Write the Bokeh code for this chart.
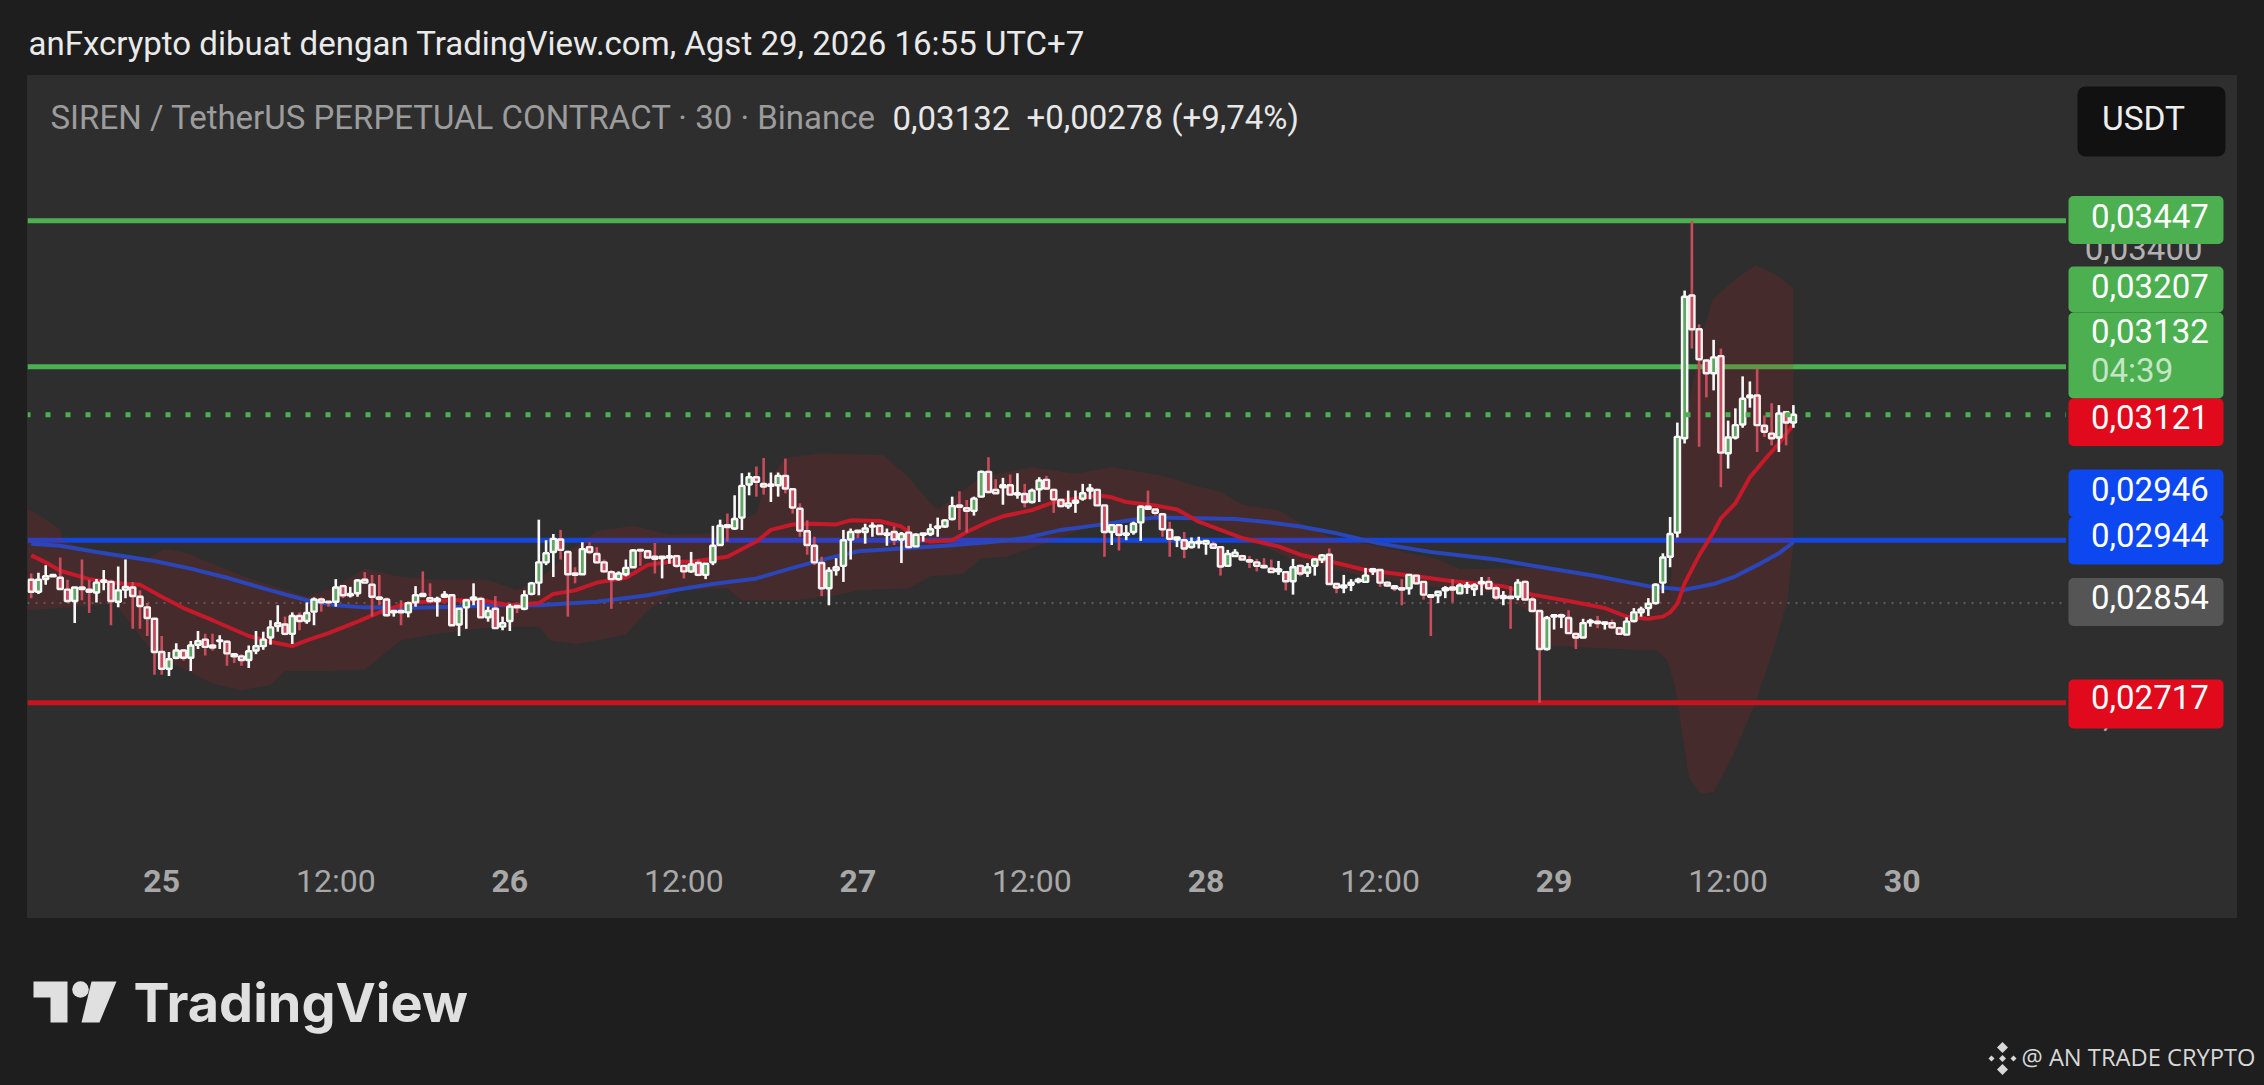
import math
from bokeh.plotting import figure
from bokeh.layouts import column, row
from bokeh.embed import file_html
from bokeh.resources import INLINE
from bokeh.core.properties import value
from bokeh.models import (Range1d, FixedTicker, CustomJSTickFormatter, LinearAxis, BoxAnnotation,
                          Label, GlobalInlineStyleSheet, ColumnDataSource)

# ---- data (prices in 1e-5 USDT), 30-minute candles; index 0 = 25 Aug 00:00
first_index = -18
opens = [
2887,2870,2888,2892,2890,2873,2857,2876,2873,2869,
2884,2884,2856,2873,2876,2863,2848,2832,2786,2763,
2778,2788,2778,2796,2803,2795,2801,2800,2783,2780,
2775,2788,2794,2806,2822,2824,2811,2836,2829,2842,
2859,2856,2856,2878,2865,2868,2887,2880,2862,2859,
2841,2843,2841,2855,2867,2861,2857,2863,2865,2824,
2848,2859,2860,2834,2846,2821,2829,2850,2846,2867,
2883,2912,2927,2945,2927,2896,2895,2934,2924,2912,
2898,2888,2895,2905,2930,2928,2920,2918,2919,2921,
2907,2899,2911,2894,2912,2937,2966,2961,2977,3026,
3037,3027,3024,3025,3039,3019,2990,2957,2936,2911,
2875,2901,2907,2945,2958,2956,2964,2965,2952,2956,
2945,2955,2935,2952,2953,2962,2964,2975,2995,2991,
2987,3008,3045,3018,3022,3025,3011,3012,3000,3019,
3033,3018,3003,2994,2999,3005,3017,3018,2995,2956,
2966,2952,2956,2970,2993,2989,2982,2959,2945,2944,
2934,2940,2939,2938,2934,2907,2921,2921,2915,2912,
2907,2903,2899,2898,2885,2907,2897,2907,2916,2923,
2881,2876,2880,2885,2884,2899,2901,2883,2878,2875,
2875,2893,2884,2865,2865,2872,2876,2868,2877,2874,
2882,2884,2875,2861,2863,2863,2884,2859,2843,2790,
2835,2835,2833,2811,2806,2827,2828,2825,2826,2819,
2810,2829,2841,2847,2854,2883,2920,2955,3096,3322,
3267,3217,3197,3224,3073,3097,3117,3159,3162,3115,
3103,3097,3136,3120]
highs = [
2896,2897,2908,2895,2919,2887,2876,2916,2887,2888,
2901,2887,2906,2916,2884,2872,2854,2832,2808,2786,
2798,2790,2801,2815,2811,2811,2809,2802,2783,2783,
2795,2815,2814,2830,2851,2835,2841,2841,2855,2862,
2862,2856,2888,2880,2877,2888,2898,2894,2894,2862,
2844,2858,2856,2878,2899,2882,2863,2871,2867,2847,
2860,2882,2863,2849,2864,2835,2853,2851,2872,2884,
2974,2944,2953,2959,2929,2905,2941,2941,2934,2916,
2901,2899,2916,2931,2931,2930,2940,2920,2937,2923,
2908,2927,2916,2911,2965,2974,2983,3010,3043,3044,
3053,3066,3044,3044,3065,3020,2998,2973,2949,2920,
2905,2918,2959,2961,2959,2968,2970,2966,2961,2964,
2956,2965,2954,2954,2968,2977,2975,3008,3016,3003,
3008,3047,3067,3034,3036,3041,3043,3027,3020,3037,
3039,3020,3005,3017,3017,3027,3027,3020,2995,2966,
2967,2966,2971,2995,3017,2990,2984,2971,2949,2956,
2948,2949,2944,2942,2935,2930,2931,2923,2921,2917,
2918,2916,2914,2898,2917,2909,2911,2918,2924,2932,
2883,2894,2888,2890,2904,2904,2902,2885,2879,2888,
2895,2894,2885,2865,2871,2878,2888,2882,2884,2882,
2891,2891,2879,2871,2878,2888,2886,2863,2844,2836,
2838,2839,2844,2813,2832,2832,2836,2828,2831,2821,
2834,2847,2849,2861,2882,2925,2978,3120,3330,3447,
3275,3219,3250,3236,3123,3142,3192,3184,3204,3131,
3150,3147,3138,3147]
lows = [
2861,2867,2880,2892,2873,2854,2826,2858,2840,2855,
2872,2823,2848,2861,2818,2818,2808,2755,2755,2753,
2776,2774,2760,2790,2781,2788,2790,2767,2771,2767,
2764,2783,2789,2796,2814,2809,2797,2816,2825,2823,
2842,2849,2849,2861,2862,2863,2882,2835,2851,2835,
2835,2823,2834,2849,2863,2854,2835,2861,2823,2808,
2818,2851,2833,2828,2818,2816,2815,2840,2844,2865,
2865,2908,2891,2916,2835,2882,2894,2924,2910,2897,
2846,2886,2892,2904,2907,2918,2896,2889,2910,2904,
2889,2897,2892,2888,2908,2936,2942,2959,2959,3010,
3008,3011,3000,3008,3013,2983,2949,2923,2908,2864,
2851,2893,2884,2916,2947,2939,2949,2952,2936,2937,
2911,2932,2934,2942,2950,2949,2962,2973,2959,2955,
2980,3007,3013,3012,2996,3010,3005,2992,2998,3000,
3018,2984,2992,2990,2984,3002,3004,2994,2920,2937,
2929,2944,2952,2943,2988,2980,2949,2920,2934,2918,
2932,2932,2923,2932,2893,2906,2920,2915,2904,2899,
2903,2897,2894,2872,2866,2892,2891,2893,2911,2880,
2868,2868,2871,2882,2883,2894,2877,2877,2871,2851,
2866,2880,2859,2808,2854,2861,2855,2868,2867,2864,
2865,2873,2858,2851,2818,2858,2858,2843,2717,2788,
2817,2819,2811,2790,2805,2821,2819,2817,2818,2810,
2809,2827,2835,2836,2852,2868,2905,2948,3088,3236,
3083,3159,3170,3022,3050,3094,3112,3143,3075,3098,
3085,3075,3085,3112]
closes = [
2870,2887,2892,2894,2874,2857,2876,2874,2870,2883,
2886,2857,2872,2877,2864,2850,2833,2786,2763,2776,
2788,2778,2795,2801,2793,2792,2802,2784,2780,2775,
2787,2794,2803,2820,2826,2811,2836,2829,2840,2859,
2855,2855,2876,2865,2867,2886,2883,2863,2860,2837,
2843,2841,2854,2865,2864,2857,2860,2866,2823,2846,
2858,2862,2834,2843,2819,2826,2849,2848,2865,2882,
2912,2925,2946,2930,2895,2894,2931,2927,2912,2899,
2888,2896,2904,2929,2929,2919,2917,2920,2921,2907,
2899,2909,2894,2910,2936,2965,2963,2975,3024,3037,
3030,3023,3026,3039,3020,2992,2958,2937,2912,2875,
2900,2905,2944,2956,2956,2961,2965,2953,2954,2945,
2953,2934,2952,2954,2960,2964,2973,2994,2993,2987,
3005,3045,3015,3013,3025,3011,3013,3000,3017,3032,
3020,3004,2994,2998,3002,3013,3020,2995,2956,2966,
2952,2954,2968,2993,2990,2984,2960,2946,2948,2932,
2941,2942,2943,2933,2906,2924,2926,2916,2913,2907,
2905,2898,2902,2885,2905,2896,2905,2916,2922,2881,
2876,2879,2883,2887,2893,2902,2883,2879,2875,2873,
2894,2882,2866,2863,2870,2875,2873,2879,2879,2879,
2884,2875,2862,2864,2861,2883,2859,2843,2790,2833,
2837,2837,2812,2806,2826,2829,2826,2827,2820,2811,
2828,2841,2845,2853,2880,2919,2953,3098,3320,3267,
3219,3197,3222,3074,3097,3116,3157,3162,3116,3106,
3096,3134,3120,3132]

ma_fast_i = [-18,-16,-14,-10,-6,-3,0,3,7,12,15,18,20,23,27,30,33,35,40,44,48,52,54,57,60,
             64,67,70,73,78,82,84,87,90,93,95,99,102,104,106,109,111,114,116,120,123,126,129,131,133,137,140,143,
             146,149,154,157,162,166,173,178,185,189,194,199,202,205,207,208,209,210,212,214,215,217,219,221,223,225]
ma_fast = [2922,2912,2900,2888,2882,2880,2863,2847,2830,2808,2800,2794,2802,2812,2828,2841,2851,2855,2858,2858,2851,2854,2867,2872,2883,
           2890,2908,2913,2913,2920,2942,2959,2967,2968,2967,2973,2972,2964,2947,2942,2944,2956,2971,2979,2988,3000,3005,3010,3007,3000,2995,2989,2971,
           2959,2947,2935,2923,2911,2901,2892,2885,2878,2866,2857,2847,2835,2832,2835,2841,2853,2882,2922,2956,2976,2998,3037,3063,3088,3117]

ma_slow_i = [-18,-14,-9,-1,4,9,15,20,24,28,33,41,46,52,57,60,67,71,76,82,87,92,96,102,108,114,119,124,129,134,137,143,
             148,152,157,162,168,175,184,191,198,205,208,210,212,214,217,220,223,225]
ma_slow = [2939,2936,2927,2914,2903,2890,2872,2858,2851,2848,2847,2849,2851,2851,2854,2856,2865,2873,2881,2889,2904,2918,2928,2932,2936,2941,2947,2959,2966,2974,2977,2976,
           2975,2971,2964,2954,2939,2927,2916,2904,2892,2878,2875,2873,2877,2881,2892,2908,2925,2941]

band_up_i = [-18.5,-16.5,-14,-13.6,-9,-2,0.4,3,7,11.5,20,24,28,33,38,45,49,52,57,60,65,70,76,82,83,86,91,99.5,103,106,107,113,120,126,131,138,143,
             146,149,154,157,162,166,176,179,189,198,205,208,209.7,212.7,213.8,216.8,219.8,222.8,225]
band_up = [2990,2978,2959,2943,2927,2917,2931,2927,2910,2891,2863,2877,2903,2891,2887,2887,2872,2887,2934,2957,2965,2952,2954,2983,3022,3066,3073,3070,3037,2998,2989,3037,3052,3042,3052,3039,3023,
           3015,2996,2988,2969,2944,2939,2916,2902,2904,2892,2878,2868,3104,3268,3314,3347,3372,3355,3333]
band_lo_i = [-18.5,-11.5,-6.5,-4,-1,3.5,7,11,15,17,23,28,33,38,46,52,53.5,57,60.5,64,67,71,78,80,87,93,96,103,106,110.6,113,116.4,122,129,137,143,
             150,157,166,175,184,189,191,195,206.2,207.6,208.7,209.4,210.6,212.2,214,216.8,219.5,221.9,224.2,225]
band_lo = [2844,2849,2854,2821,2783,2760,2743,2734,2741,2760,2760,2762,2802,2811,2821,2821,2802,2797,2803,2810,2844,2872,2875,2858,2858,2865,2872,2875,2892,2896,2918,2920,2940,2968,2978,2974,
           2944,2911,2892,2878,2868,2840,2795,2793,2788,2775,2738,2694,2619,2598,2600,2650,2711,2779,2858,2940]

line_green = [0.03447, 0.03207]
line_blue = [0.02944]
line_red = [0.02717]
last_price = 0.03132
prev_close = 0.02854

day_ticks = [0, 48, 96, 144, 192, 240]
day_labels = ["25", "26", "27", "28", "29", "30"]
noon_ticks = [24, 72, 120, 168, 216]
noon_labels = ["12:00"] * 5

tag_texts = ["0,03447", "0,03207", "0,03132", "0,03121", "0,02946", "0,02944", "0,02854", "0,02717"]
tag_colors = ["#4caf50", "#4caf50", "#4caf50", "#e00a1c", "#0c47f0", "#0c47f0", "#555555", "#e00a1c"]
tag_tops = [195.5, 266, 312, 398, 469, 516.5, 577.5, 679]
tag_bots = [243.5, 312, 398, 445.5, 516.5, 564, 625.5, 728]
tag_mid = [215, 285, 330, 416.5, 488, 534, 596, 696]

header_text = "anFxcrypto dibuat dengan TradingView.com, Agst 29, 2026 16:55 UTC+7"
symbol_text = "SIREN / TetherUS PERPETUAL CONTRACT · 30 · Binance"
quote_text = "0,03132"
change_text = "+0,00278 (+9,74%)"

PAGE_BG = "#1e1e1e"
PANEL = "#2e2e2e"
FONT = value("Roboto")

# ---- main chart
X0, X1 = -18.51, 262.66
Y0, Y1 = 0.025135, 0.03703
FRAME_L, FRAME_T, FRAME_W, FRAME_H = 27, 75, 2039, 785


def dx(page_x):
    return X0 + (page_x - FRAME_L) / FRAME_W * (X1 - X0)


def dy(page_y):
    return Y1 * math.exp(-(page_y - FRAME_T) / FRAME_H * math.log(Y1 / Y0))


y_shared = Range1d(Y0, Y1)
p = figure(width=FRAME_W, height=843, y_axis_type="log", y_axis_location=None,
           x_range=Range1d(X0, X1), y_range=y_shared,
           output_backend="svg", toolbar_location=None,
           background_fill_color=PANEL, border_fill_color=PANEL, outline_line_color=None,
           min_border_left=0, min_border_top=0, min_border_right=0, min_border_bottom=58)
p.grid.visible = False

xa = p.xaxis[0]
xa.ticker = FixedTicker(ticks=day_ticks)
xa.major_label_overrides = dict(zip(day_ticks, day_labels))
xa.major_label_text_font_style = "bold"
noon_axis = LinearAxis(ticker=FixedTicker(ticks=noon_ticks),
                       major_label_overrides=dict(zip(noon_ticks, noon_labels)))
p.add_layout(noon_axis, "below")
for ax in (xa, noon_axis):
    ax.axis_line_color = None
    ax.major_tick_line_color = None
    ax.minor_tick_line_color = None
    ax.major_label_text_font = "Roboto"
    ax.major_label_text_font_size = "32px"
    ax.major_label_text_color = "#a8a8a8"
xa.major_label_standoff = 3
noon_axis.major_label_standoff = -39

for lv, col in [(line_green[0], "#4caf50"), (line_green[1], "#4caf50"), (line_blue[0], "#1546dc"), (line_red[0], "#c8141f")]:
    p.line([X0, X1], [lv, lv], line_color=col, line_width=5)
p.line([X0, X1], [prev_close, prev_close], line_color="#5c5c5c", line_width=2, line_dash="2 6")

p.patch(band_up_i + band_lo_i[::-1], [v / 1e5 for v in band_up + band_lo[::-1]],
        fill_color="#c81e28", fill_alpha=0.16, line_color=None)
p.line(ma_slow_i, [v / 1e5 for v in ma_slow], line_color="#2a46b8", line_width=4)
p.line(ma_fast_i, [v / 1e5 for v in ma_fast], line_color="#c41a2a", line_width=4)

idx = list(range(first_index, first_index + len(opens)))
up = [c >= o for o, c in zip(opens, closes)]
src_up = ColumnDataSource(dict(
    x=[i for i, u in zip(idx, up) if u],
    o=[v / 1e5 for v, u in zip(opens, up) if u],
    c=[v / 1e5 for v, u in zip(closes, up) if u],
    h=[v / 1e5 for v, u in zip(highs, up) if u],
    l=[v / 1e5 for v, u in zip(lows, up) if u]))
src_dn = ColumnDataSource(dict(
    x=[i for i, u in zip(idx, up) if not u],
    o=[v / 1e5 for v, u in zip(opens, up) if not u],
    c=[v / 1e5 for v, u in zip(closes, up) if not u],
    h=[v / 1e5 for v, u in zip(highs, up) if not u],
    l=[v / 1e5 for v, u in zip(lows, up) if not u]))
p.segment("x", "h", "x", "l", source=src_dn, line_color="#c84c5c", line_width=2.6)
p.segment("x", "h", "x", "l", source=src_up, line_color="#f8f8f8", line_width=2.6)
p.vbar("x", 0.72, "o", "c", source=src_dn, fill_color="#c94b5e", line_color="#f8f2f2", line_width=2.4)
p.vbar("x", 0.72, "o", "c", source=src_up, fill_color="#5fa863", line_color="#f8f8f8", line_width=2.4)

p.line([X0, X1], [last_price, last_price], line_color="#4caf50", line_width=5, line_dash="5 15", line_dash_offset=2)

# ---- texts over the chart pane
for text, px, col in [(symbol_text, 50, "#9c9c9c"), (quote_text, 892, "#e8e8e8"), (change_text, 1026, "#e8e8e8")]:
    p.add_layout(Label(x=dx(px), y=dy(117), text=text,
                       text_font="Roboto", text_font_size="33px", text_color=col, text_baseline="middle"))

# ---- price scale: a figure of its own whose x data units are page pixels
s = figure(width=171, height=843, y_axis_type="log", y_axis_location="left",
           x_range=Range1d(2066, 2237), y_range=y_shared, x_axis_location=None,
           output_backend="svg", toolbar_location=None,
           background_fill_color=PANEL, border_fill_color=PANEL, outline_line_color=None,
           min_border_left=0, min_border_top=0, min_border_right=0, min_border_bottom=58)
s.grid.visible = False
ya = s.yaxis[0]
ya.ticker = FixedTicker(ticks=[0.027, 0.034])
ya.formatter = CustomJSTickFormatter(code="return tick.toFixed(5).replace('.', ',')")
ya.axis_line_color = None
ya.major_tick_line_color = None
ya.minor_tick_line_color = None
ya.major_label_standoff = -142
ya.major_label_text_font = "Roboto"
ya.major_label_text_font_size = "33px"
ya.major_label_text_color = "#b2b2b2"

s.add_layout(BoxAnnotation(left=2077, right=2225, top=dy(86), bottom=dy(156),
                           fill_color="#111111", fill_alpha=1, line_color=None, border_radius=8))
s.add_layout(Label(x=2143, y=dy(118), text="USDT",
                   text_font="Roboto", text_font_size="33.5px", text_color="#eeeeee",
                   text_align="center", text_baseline="middle"))

for text, col, top, bot, mid in zip(tag_texts, tag_colors, tag_tops, tag_bots, tag_mid):
    s.add_layout(BoxAnnotation(left=2068, right=2223, top=dy(top), bottom=dy(bot),
                               fill_color=col, fill_alpha=1, line_color=None, border_radius=5))
    s.add_layout(Label(x=2090.5, y=dy(mid), text=text,
                       text_font="Roboto", text_font_size="33px", text_color="#ffffff", text_baseline="middle"))
s.add_layout(Label(x=2090.5, y=dy(370), text="04:39",
                   text_font="Roboto", text_font_size="33px", text_color="#c4e6c6", text_baseline="middle"))


# ---- header and footer strips (their data units are page pixels)
def strip(h, top):
    f = figure(width=2264, height=h, x_range=Range1d(0, 2264), y_range=Range1d(top + h, top),
               x_axis_type=None, y_axis_type=None, output_backend="svg", toolbar_location=None,
               background_fill_color=PAGE_BG, border_fill_color=PAGE_BG, outline_line_color=None,
               min_border=0)
    f.grid.visible = False
    return f


head = strip(75, 0)
head.text([28], [43], text=[header_text], text_font=FONT, text_font_size="33px",
          text_color="#eaeaea", text_baseline="middle")

foot = strip(167, 918)
foot.patches([[33, 67, 67, 50, 50, 33], [91, 116, 99, 81]],
             [[981, 981, 1022, 1022, 997, 997], [981, 981, 1022, 1022]], fill_color="#e0e0e0", line_color=None)
foot.circle([80], [989], radius=8.3, fill_color="#e0e0e0", line_color=None)
foot.text([133], [1002], text=["TradingView"], text_font=value("Inter"), text_font_size="54px",
          text_font_style="bold", text_color="#e0e0e0", text_baseline="middle")
dia = [(2002, 1047, 5.5), (2002, 1069, 5.5), (1991, 1058, 3), (2013, 1058, 3), (2002, 1058, 3.5)]
foot.patches([[x, x + r, x, x - r] for x, y, r in dia], [[y - r, y, y + r, y] for x, y, r in dia],
             fill_color="#d8d8d8", line_color=None)
foot.text([2021], [1056], text=["@ AN TRADE CRYPTO"], text_font=value("Open Sans"), text_font_size="23.7px",
          text_color="#d8d8d8", text_baseline="middle")

middle = row(p, s, spacing=0, margin=(0, 27, 0, 27), styles={"background": PANEL})
page = column(head, middle, foot, spacing=0,
              stylesheets=[GlobalInlineStyleSheet(css="html,body{background:#1e1e1e;overflow:hidden}")])
open("out.html", "w").write(file_html(page, INLINE))
